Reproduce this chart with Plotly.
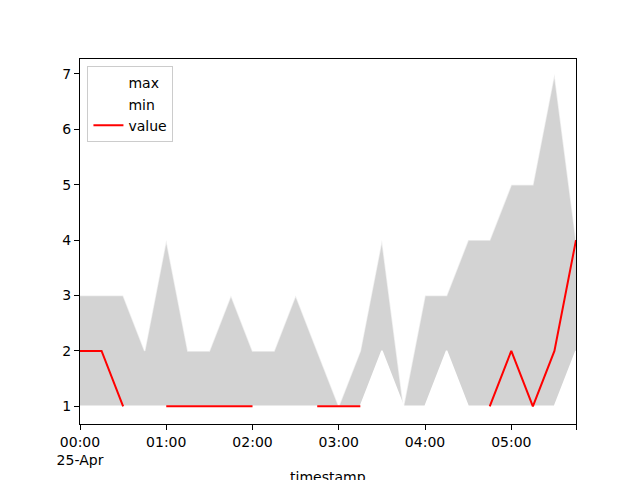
import pandas as pd
import plotly.graph_objects as go

timestamps = pd.date_range("2023-04-25 00:00", periods=24, freq="15min")
max_vals = [3, 3, 3, 2, 4, 2, 2, 3, 2, 2, 3, 2, 1, 2, 4, 1, 3, 3, 4, 4, 5, 5, 7, 4]
min_vals = [1, 1, 1, 1, 1, 1, 1, 1, 1, 1, 1, 1, 1, 1, 2, 1, 1, 2, 1, 1, 1, 1, 1, 2]
values = [2, 2, 1, None, 1, 1, 1, 1, 1, None, None, 1, 1, 1, None, None,
          None, None, None, 1, 2, 1, 2, 4]
x_tick_times = pd.date_range("2023-04-25 00:00", periods=6, freq="1h")
x_tick_labels = ["00:00<br>25-Apr", "01:00", "02:00", "03:00", "04:00", "05:00"]
y_ticks = [1, 2, 3, 4, 5, 6, 7]

FONT = "DejaVu Sans"

fig = go.Figure()
# shaded band between min and max
fig.add_trace(go.Scatter(x=timestamps, y=min_vals, mode="lines",
                         line=dict(color="white", width=0), showlegend=False,
                         hoverinfo="skip"))
fig.add_trace(go.Scatter(x=timestamps, y=max_vals, mode="lines", fill="tonexty",
                         fillcolor="#d3d3d3", line=dict(color="white", width=0),
                         showlegend=False, hoverinfo="skip"))
fig.add_trace(go.Scatter(x=timestamps, y=max_vals, mode="lines", name="max",
                         line=dict(color="rgba(255,255,255,0.6)", width=1.5)))
fig.add_trace(go.Scatter(x=timestamps, y=min_vals, mode="lines", name="min",
                         line=dict(color="white", width=1.5)))
fig.add_trace(go.Scatter(x=timestamps, y=values, mode="lines", name="value",
                         line=dict(color="red", width=2), connectgaps=False))

tickvals = list(x_tick_times) + [timestamps[-1]]
ticktext = x_tick_labels + [""]

fig.update_layout(
    width=632, height=472,
    margin=dict(l=72, r=64, t=51, b=52),
    paper_bgcolor="white", plot_bgcolor="white",
    font=dict(family=FONT, size=14, color="black"),
    legend=dict(x=0.015, y=0.98, xanchor="left", yanchor="top",
                traceorder="normal",
                bgcolor="rgba(255,255,255,0.8)", bordercolor="#cccccc",
                borderwidth=1, font=dict(size=14), tracegroupgap=0),
    xaxis=dict(range=[timestamps[0], timestamps[-1]], tickvals=tickvals,
               ticktext=ticktext, ticks="outside", ticklen=5, tickcolor="black",
               showline=True, linecolor="black", linewidth=1, mirror=True,
               showgrid=False, zeroline=False, tickangle=0),
    yaxis=dict(range=[0.68, 7.27], tickvals=y_ticks, ticks="outside", ticklen=5,
               tickcolor="black", showline=True, linecolor="black", linewidth=1,
               mirror=True, showgrid=False, zeroline=False),
    annotations=[dict(text="timestamp", xref="paper", yref="paper", x=0.5, y=0,
                      xanchor="center", yanchor="top", yshift=-43, showarrow=False,
                      font=dict(family=FONT, size=14))],
)

fig.write_html("out.html")
